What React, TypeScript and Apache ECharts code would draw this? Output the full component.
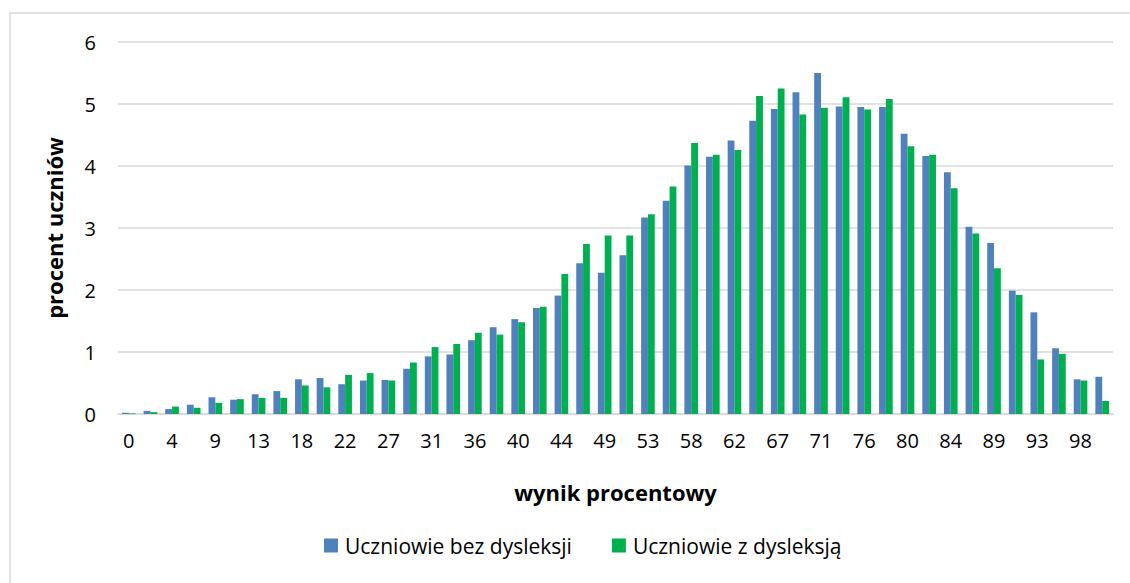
import React, { useEffect, useRef } from "react";
import * as echarts from "echarts";

const categories: string[] = [
  "0", "2", "4", "7", "9", "11", "13", "16", "18", "20", "22", "24", "27", "29", "31", "33",
  "36", "38", "40", "42", "44", "47", "49", "51", "53", "56", "58", "60", "62", "64", "67",
  "69", "71", "73", "76", "78", "80", "82", "84", "87", "89", "91", "93", "96", "98", "100",
];

const bezDysleksji: number[] = [
  0.02, 0.05, 0.08, 0.15, 0.27, 0.23, 0.32, 0.37, 0.56, 0.58, 0.48, 0.54, 0.55, 0.73, 0.93, 0.96,
  1.19, 1.4, 1.53, 1.71, 1.91, 2.43, 2.28, 2.56, 3.17, 3.44, 4.01, 4.15, 4.41, 4.73, 4.92,
  5.19, 5.5, 4.96, 4.95, 4.95, 4.52, 4.16, 3.9, 3.02, 2.76, 1.99, 1.64, 1.06, 0.56, 0.6,
];

const zDysleksja: number[] = [
  0.01, 0.03, 0.12, 0.1, 0.18, 0.24, 0.26, 0.26, 0.46, 0.43, 0.63, 0.66, 0.54, 0.83, 1.08, 1.13,
  1.31, 1.28, 1.48, 1.73, 2.26, 2.74, 2.88, 2.88, 3.22, 3.67, 4.37, 4.18, 4.26, 5.13, 5.25,
  4.83, 4.94, 5.11, 4.91, 5.08, 4.32, 4.18, 3.64, 2.91, 2.35, 1.92, 0.88, 0.97, 0.54, 0.21,
];

const seriesNames: string[] = ["Uczniowie bez dysleksji", "Uczniowie z dysleksją"];

const FONT = "'Open Sans', sans-serif";

export default function App() {
  const ref = useRef<HTMLDivElement>(null);

  useEffect(() => {
    document.body.style.margin = "0";
    if (!ref.current) return;
    const chart = echarts.init(ref.current, null, { renderer: "svg" });
    chart.setOption({
      animation: false,
      backgroundColor: "#ffffff",
      textStyle: { fontFamily: FONT },
      graphic: [
        {
          type: "rect",
          shape: { x: 10, y: 13, width: 1200, height: 700 },
          style: { fill: "none", stroke: "#D9D9D9", lineWidth: 1.5 },
          silent: true,
          z: -10,
        },
      ],
      grid: { left: 118, right: 17, top: 42, bottom: 169, containLabel: false },
      legend: {
        data: seriesNames,
        bottom: 22,
        left: 319,
        itemWidth: 14,
        itemHeight: 14,
        itemGap: 40,
        icon: "rect",
        textStyle: { fontFamily: FONT, fontSize: 21, color: "#000", padding: [0, 0, 0, 2] },
      },
      xAxis: {
        type: "category",
        data: categories,
        name: "wynik procentowy",
        nameLocation: "middle",
        nameGap: 67,
        nameTextStyle: { fontFamily: FONT, fontSize: 22, fontWeight: "bold", color: "#000" },
        axisLine: { lineStyle: { color: "#D9D9D9", width: 1.5 } },
        axisTick: { show: false },
        axisLabel: { interval: 1, fontSize: 20, color: "#000", margin: 16, fontFamily: FONT },
      },
      yAxis: {
        type: "value",
        min: 0,
        max: 6,
        interval: 1,
        name: "procent uczniów",
        nameLocation: "middle",
        nameRotate: 90,
        nameGap: 53,
        nameTextStyle: { fontFamily: FONT, fontSize: 22, fontWeight: "bold", color: "#000" },
        axisLine: { show: false },
        axisTick: { show: false },
        axisLabel: { fontSize: 20, color: "#000", margin: 22, fontFamily: FONT },
        splitLine: { lineStyle: { color: "#D9D9D9", width: 1.5 } },
      },
      series: [
        {
          name: seriesNames[0],
          type: "bar",
          data: bezDysleksji,
          itemStyle: { color: "#4F81BD" },
          barGap: "0%",
          barCategoryGap: "37%",
        },
        {
          name: seriesNames[1],
          type: "bar",
          data: zDysleksja,
          itemStyle: { color: "#00B050" },
          barGap: "0%",
          barCategoryGap: "37%",
        },
      ],
    });
    return () => chart.dispose();
  }, []);

  return (
    <div
      ref={ref}
      style={{ position: "absolute", left: 0, top: 0, width: 1130, height: 583 }}
    />
  );
}
